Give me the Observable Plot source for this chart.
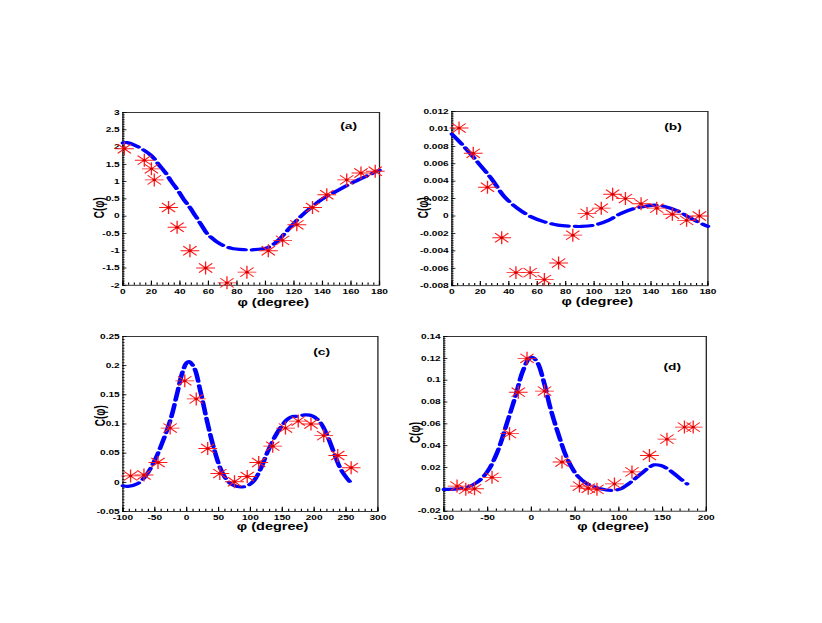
<!DOCTYPE html>
<html><head><meta charset="utf-8">
<script src="https://cdn.jsdelivr.net/npm/d3@7"></script>
<script src="https://cdn.jsdelivr.net/npm/@observablehq/plot@0.6"></script>
<style>
html,body{margin:0;padding:0;background:#fff;}
#root{position:relative;width:822px;height:623px;overflow:hidden;background:#fff;}
.panel{position:absolute;transform-origin:0 0;}
.panel svg{overflow:visible;}
</style></head><body><div id="root"></div>
<script>
// ---------- data ----------
// panel (a)
const pointsA_phi = [1,15,20,22,32,38,47,58,73,87,102,112,122,133,143,157,167,177];
const pointsA_C   = [1.95,1.62,1.37,1.05,0.25,-0.32,-1.0,-1.5,-1.93,-1.62,-1.0,-0.7,-0.25,0.25,0.62,1.05,1.25,1.3];
const curveA_phi = [0,3,11,20,25,30,34,38.5,42.4,47,51,55,59,68,76,85,92,102,109,113.5,119,125,132,140,151,162.5,173,180];
const curveA_C   = [2.12,2.13,2.0,1.75,1.5,1.25,1.0,0.75,0.5,0.25,0,-0.25,-0.5,-0.8,-0.93,-0.97,-0.97,-0.9,-0.7,-0.5,-0.25,0,0.25,0.5,0.75,1.0,1.2,1.33];
// panel (b)
const pointsB_phi = [5,15,25,35,45,55,65,75,85,95,105,113,122,133,144,155,165,174];
const pointsB_C   = [0.0101,0.0072,0.0033,-0.0025,-0.0065,-0.0065,-0.0073,-0.0054,-0.0022,0.0003,0.0009,0.0025,0.002,0.0014,0.0009,0.0002,-0.0005,0.0];
const curveB_phi = [0,9,18,27.7,37,46.4,55.8,65,74.5,84,91,100,110,119,128,135.5,142.5,149.5,160,165,172,180];
const curveB_C   = [0.0094,0.0079,0.0062,0.0043,0.0022,0.00085,-0.0001,-0.00067,-0.00105,-0.00117,-0.0012,-0.00105,-0.0005,0.0003,0.00085,0.0011,0.00124,0.0011,0.0005,0.0,-0.0006,-0.0012];
// panel (c)
const pointsC_phi = [-88,-67,-45,-26,-3,15,33,52,75,95,113,135,155,175,195,215,237,258];
const pointsC_C   = [0.011,0.0125,0.034,0.093,0.174,0.143,0.058,0.015,0.001,0.010,0.034,0.062,0.093,0.105,0.100,0.080,0.046,0.025];
const curveC_phi = [-100,-92,-77.5,-64.4,-51.4,-38.3,-25.2,-14.6,-6.8,0,3.7,11.5,22,32.4,43,53.3,63.8,74,84.8,95,105.6,116,126.5,142,158,166,175,185,197,210,220.5,231,241.5,252,260];
const curveC_C   = [-0.006,-0.007,-0.0026,0.011,0.0346,0.068,0.108,0.154,0.188,0.205,0.207,0.197,0.154,0.103,0.057,0.023,0.003,-0.0054,-0.008,-0.006,0.003,0.023,0.051,0.085,0.108,0.113,0.113,0.1155,0.114,0.102,0.080,0.051,0.023,0.006,-0.003];
// panel (d)
const pointsD_phi = [-85,-75,-65,-45,-25,-15,-5,15,35,55,65,75,95,115,135,155,175,185];
const pointsD_C   = [0.003,0.0,0.0005,0.011,0.051,0.089,0.12,0.090,0.025,0.003,0.001,0.0,0.005,0.016,0.031,0.046,0.057,0.057];
const curveD_phi = [-100,-85,-73,-62,-50.5,-39,-27.6,-18,-10.4,-2.8,1,6.7,14.4,22,31.5,41,52.5,64,79,91,102,113.5,125,134.5,140,148,159,170.6,178];
const curveD_C   = [0.0,0.0005,0.002,0.0065,0.016,0.034,0.0615,0.086,0.107,0.1196,0.121,0.1165,0.098,0.0737,0.049,0.028,0.0126,0.005,0.0005,-0.001,0.0005,0.0065,0.014,0.020,0.0224,0.0218,0.017,0.0095,0.005];

// tick labels
const xTicksAB = [0,20,40,60,80,100,120,140,160,180];
const xTicksC  = [-100,-50,0,50,100,150,200,250,300];
const xTicksD  = [-100,-50,0,50,100,150,200];
const yTicksA  = [-2,-1.5,-1,-0.5,0,0.5,1,1.5,2,2.5,3];
const yTicksB  = [-0.008,-0.006,-0.004,-0.002,0,0.002,0.004,0.006,0.008,0.01,0.012];
const yTicksC  = [-0.05,0,0.05,0.1,0.15,0.2,0.25];
const yTicksD  = [-0.02,0,0.02,0.04,0.06,0.08,0.1,0.12,0.14];

const panelLabels = ["(a)","(b)","(c)","(d)"];
const xTitle = "φ (degree)";
const yTitle = "C(φ)";

// ---------- drawing ----------
const SX = 1.45;           // horizontal stretch of the original figure
const mL = 36, mR = 8, mT = 10, mB = 30;
const zip = (xs, ys) => xs.map((x, i) => ({phi: x, C: ys[i]}));
const fmt = d => String(Number(d.toFixed(6)));
function minor(lo, hi, step) {
  const n = Math.round((hi - lo) / step);
  return d3.range(n + 1).map(i => Number((lo + i * step).toFixed(8)));
}
const star = {
  draw(ctx, size) {
    const r = Math.sqrt(size / Math.PI), d = r * Math.SQRT1_2;
    ctx.moveTo(-r, 0); ctx.lineTo(r, 0);
    ctx.moveTo(0, -r); ctx.lineTo(0, r);
    ctx.moveTo(-d, -d); ctx.lineTo(d, d);
    ctx.moveTo(-d, d); ctx.lineTo(d, -d);
  }
};

const panels = [
  {label: panelLabels[0], pts: zip(pointsA_phi, pointsA_C), crv: zip(curveA_phi, curveA_C),
   xd: [0,180], yd: [-2,3], xt: xTicksAB, yt: yTicksA, xmin: 4, ymin: 0.05,
   f: [121.7, 378.3, 111.7, 284.5], xT: [272, 302], yT: [98.5, 207], pl: [347.5, 125.5]},
  {label: panelLabels[1], pts: zip(pointsB_phi, pointsB_C), crv: zip(curveB_phi, curveB_C),
   xd: [0,180], yd: [-0.008,0.012], xt: xTicksAB, yt: yTicksB, xmin: 4, ymin: 0.0002,
   f: [450.7, 706.7, 111.3, 285.5], xT: [596, 302], yT: [422, 207.5], pl: [671.7, 127]},
  {label: panelLabels[2], pts: zip(pointsC_phi, pointsC_C), crv: zip(curveC_phi, curveC_C),
   xd: [-100,300], yd: [-0.05,0.25], xt: xTicksC, yt: yTicksC, xmin: 10, ymin: 0.005,
   f: [122.3, 377.3, 335.7, 510.7], xT: [272, 526.5], yT: [100, 415], pl: [321, 351.5]},
  {label: panelLabels[3], pts: zip(pointsD_phi, pointsD_C), crv: zip(curveD_phi, curveD_C),
   xd: [-100,200], yd: [-0.02,0.14], xt: xTicksD, yt: yTicksD, xmin: 10, ymin: 0.002,
   f: [443.3, 705.7, 336, 510.7], xT: [612.5, 526], yT: [415, 432], pl: [671.7, 366]}
];

const root = document.getElementById("root");
for (const p of panels) {
  const [fx1, fx2, fy1, fy2] = p.f;
  const fw = (fx2 - fx1) / SX, fh = fy2 - fy1;
  const rel = ([px, py]) => ({dx: (px - fx1) / SX, dy: py - fy1});
  const xTpos = rel(p.xT), yTpos = rel(p.yT), lpos = rel(p.pl);
  const svg = Plot.plot({
    width: mL + fw + mR, height: mT + fh + mB,
    marginLeft: mL, marginRight: mR, marginTop: mT, marginBottom: mB,
    x: {domain: p.xd, axis: null},
    y: {domain: p.yd, axis: null},
    style: {fontFamily: "'Liberation Sans', Arial, sans-serif", fontWeight: "bold", fontSize: "7px", background: "transparent", color: "#000"},
    marks: [
      Plot.frame({stroke: "#222", strokeWidth: 0.9}),
      Plot.tickX(minor(p.xd[0], p.xd[1], p.xmin), {x: d => d, insetTop: fh - 2.2, stroke: "#000", strokeWidth: 0.8}),
      Plot.tickX(p.xt, {x: d => d, insetTop: fh - 4.2, stroke: "#000", strokeWidth: 0.8}),
      Plot.tickY(minor(p.yd[0], p.yd[1], p.ymin), {y: d => d, insetRight: fw - 1.6, stroke: "#000", strokeWidth: 0.8}),
      Plot.tickY(p.yt, {y: d => d, insetRight: fw - 2.9, stroke: "#000", strokeWidth: 0.8}),
      Plot.axisX({ticks: p.xt, tickSize: 0, tickPadding: 3.5, tickFormat: fmt, label: null, fill: "#000"}),
      Plot.axisY({ticks: p.yt, tickSize: 0, tickPadding: 2.2, tickFormat: fmt, label: null, fill: "#000"}),
      Plot.line(p.crv, {x: "phi", y: "C", curve: "catmull-rom", stroke: "#0000ff", strokeWidth: 3.2, strokeDasharray: "12,4.5"}),
      Plot.dot(p.pts, {x: "phi", y: "C", symbol: star, r: 6.5, stroke: "#ff1a1a", strokeWidth: 0.9}),
      Plot.dot(p.pts, {x: "phi", y: "C", r: 1.2, fill: "#d00000", stroke: "none"}),
      Plot.text([xTitle], {text: d => d, frameAnchor: "top-left", dx: xTpos.dx, dy: xTpos.dy, fontSize: 10, textAnchor: "middle", lineAnchor: "middle", fill: "#000"}),
      Plot.text([yTitle], {text: d => d, frameAnchor: "top-left", dx: yTpos.dx, dy: yTpos.dy, fontSize: 10, rotate: -90, textAnchor: "middle", lineAnchor: "middle", fill: "#000"}),
      Plot.text([p.label], {text: d => d, frameAnchor: "top-left", dx: lpos.dx, dy: lpos.dy, fontSize: 9.5, textAnchor: "middle", lineAnchor: "middle", fill: "#000"})
    ]
  });
  const div = document.createElement("div");
  div.className = "panel";
  div.style.left = (fx1 - mL * SX) + "px";
  div.style.top = (fy1 - mT) + "px";
  div.style.transform = `scaleX(${SX})`;
  div.appendChild(svg);
  root.appendChild(div);
}
</script>
</body></html>
